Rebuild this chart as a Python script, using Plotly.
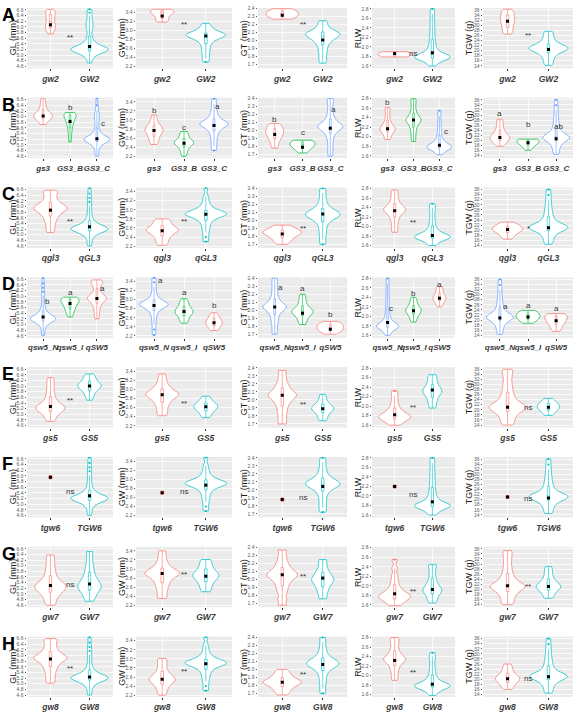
import plotly.graph_objects as go

# ---------------- axis definitions ----------------
TRAITS = ["GL (mm)", "GW (mm)", "GT (mm)", "RLW", "TGW (g)"]
Y_RANGES = [[4.53, 6.67], [2.16, 3.49], [1.655, 2.41], [1.55, 2.82], [13.0, 36.8]]
Y_TICK0 = [4.6, 2.2, 1.7, 1.6, 14]
Y_DTICK = [0.2, 0.2, 0.1, 0.2, 2]
Y_FMT = [".1f", ".1f", ".1f", ".1f", ".0f"]
BANDWIDTH = [0.095, 0.058, 0.033, 0.052, 1.05]

RED, CYAN, GREEN, BLUE = "#F8766D", "#00BFC4", "#00BA38", "#619CFF"

# ---------------- Row A : gw2 / GW2 ----------------
A_groups = ["gw2", "GW2"]
A_GL = [[5.75, 5.8, 5.85, 5.9, 5.94, 5.98, 6.02, 6.06, 6.1, 6.14, 6.19, 6.24, 6.29, 6.34, 6.39, 6.44, 6.48, 6.52, 6.56, 6.59, 6.62],
        [4.72, 4.84, 4.94, 5.0, 5.04, 5.07, 5.1, 5.12, 5.14, 5.16, 5.17, 5.18, 5.19, 5.2, 5.21, 5.22, 5.23, 5.24, 5.26, 5.28, 5.3, 5.33, 5.36, 5.4, 5.45, 5.52, 5.62, 5.74, 5.88, 5.98, 6.06, 6.14, 6.24, 6.38, 6.5, 6.62]]
A_GW = [[3.18, 3.2, 3.22, 3.25, 3.29, 3.33, 3.36, 3.38, 3.4, 3.41, 3.42, 3.43, 3.44, 3.45, 3.46],
        [2.3, 2.38, 2.46, 2.53, 2.6, 2.66, 2.72, 2.76, 2.8, 2.82, 2.84, 2.86, 2.87, 2.88, 2.89, 2.9, 2.91, 2.92, 2.93, 2.95, 2.97, 3.0, 3.04, 3.09, 3.15]]
A_GT = [[2.27, 2.28, 2.29, 2.3, 2.31, 2.32, 2.33, 2.34, 2.35, 2.36, 2.37, 2.38, 2.39, 2.4],
        [1.72, 1.77, 1.82, 1.87, 1.91, 1.95, 1.98, 2.0, 2.02, 2.04, 2.05, 2.06, 2.07, 2.08, 2.09, 2.1, 2.11, 2.12, 2.14, 2.17, 2.21, 2.25]]
A_RLW = [[1.79, 1.8, 1.81, 1.82, 1.83, 1.84, 1.85, 1.86, 1.87, 1.88, 1.89, 1.9],
         [1.6, 1.65, 1.69, 1.72, 1.74, 1.75, 1.76, 1.77, 1.78, 1.79, 1.8, 1.81, 1.82, 1.83, 1.85, 1.87, 1.9, 1.94, 1.99, 2.05, 2.12, 2.2, 2.29, 2.38, 2.48, 2.58, 2.69, 2.8]]
A_TGW = [[26.5, 27.3, 28.1, 28.9, 29.7, 30.5, 31.2, 31.8, 32.4, 33, 33.6, 34.3, 35, 35.7, 36.3],
         [14.2, 15.3, 16.4, 17.4, 18.2, 18.9, 19.4, 19.8, 20.1, 20.4, 20.6, 20.8, 21, 21.2, 21.4, 21.7, 22, 22.4, 22.9, 23.6, 24.5, 25.5, 26.6, 27.6]]
A_MEANS = [[6.07, 5.3], [3.31, 2.87], [2.32, 2.01], [1.86, 1.88], [31.6, 20.4]]
A_SIG = ["**", "**", "**", "ns", "**"]
A_SIG_Y = [5.62, 3.12, 2.2, 1.86, 26.0]

# ---------------- Row B : gs3 / GS3_B / GS3_C ----------------
B_groups = ["gs3", "GS3_B", "GS3_C"]
B_GL = [[5.72, 5.79, 5.85, 5.9, 5.93, 5.96, 5.98, 6.0, 6.02, 6.04, 6.06, 6.09, 6.12, 6.16, 6.21, 6.28, 6.36, 6.45, 6.55, 6.66],
        [5.1, 5.22, 5.34, 5.45, 5.54, 5.62, 5.69, 5.75, 5.8, 5.85, 5.89, 5.93, 5.96, 5.99, 6.02, 6.05, 6.08, 6.1, 6.12, 6.14, 6.15],
        [4.6, 4.72, 4.84, 4.94, 5.0, 5.04, 5.07, 5.1, 5.12, 5.14, 5.16, 5.17, 5.18, 5.19, 5.2, 5.21, 5.22, 5.23, 5.25, 5.27, 5.3, 5.33, 5.37, 5.42, 5.5, 5.6, 5.72, 5.84, 5.94, 6.02, 6.1, 6.22, 6.4, 6.65]]
B_GW = [[2.46, 2.52, 2.57, 2.62, 2.66, 2.7, 2.73, 2.76, 2.78, 2.8, 2.83, 2.86, 2.9, 2.95, 3.02, 3.11],
        [2.2, 2.27, 2.33, 2.38, 2.42, 2.45, 2.47, 2.49, 2.5, 2.51, 2.53, 2.55, 2.58, 2.62, 2.67, 2.72, 2.75],
        [2.33, 2.43, 2.53, 2.62, 2.7, 2.76, 2.8, 2.84, 2.87, 2.89, 2.9, 2.91, 2.92, 2.94, 2.96, 2.99, 3.03, 3.08, 3.15, 3.24, 3.35, 3.47]]
B_GT = [[1.78, 1.82, 1.86, 1.89, 1.91, 1.93, 1.95, 1.97, 1.98, 2.0, 2.01, 2.03, 2.05, 2.07, 2.09],
        [1.72, 1.74, 1.76, 1.78, 1.79, 1.8, 1.81, 1.82, 1.83, 1.84, 1.85, 1.86, 1.87, 1.87, 1.88],
        [1.68, 1.74, 1.8, 1.86, 1.91, 1.95, 1.98, 2.0, 2.02, 2.03, 2.04, 2.05, 2.06, 2.07, 2.08, 2.1, 2.12, 2.15, 2.19, 2.24, 2.3, 2.36, 2.4]]
B_RLW = [[1.94, 1.99, 2.04, 2.08, 2.11, 2.13, 2.15, 2.17, 2.19, 2.21, 2.24, 2.28, 2.33, 2.4, 2.48, 2.56, 2.62],
         [1.9, 1.98, 2.06, 2.13, 2.19, 2.24, 2.28, 2.31, 2.33, 2.35, 2.37, 2.39, 2.42, 2.46, 2.51, 2.58, 2.66, 2.74, 2.8],
         [1.62, 1.67, 1.71, 1.73, 1.75, 1.76, 1.77, 1.78, 1.79, 1.8, 1.81, 1.82, 1.84, 1.86, 1.89, 1.93, 1.98, 2.05, 2.13, 2.22, 2.32, 2.43, 2.55]]
B_TGW = [[17.7, 18.5, 19.2, 19.8, 20.3, 20.7, 21, 21.3, 21.7, 22.2, 22.8, 23.6, 24.6, 25.8, 27.1, 28.4],
         [16.1, 16.8, 17.4, 17.9, 18.3, 18.7, 19, 19.3, 19.5, 19.7, 19.9, 20.1, 20.2, 20.3, 20.4, 20.5],
         [14.5, 15.6, 16.7, 17.7, 18.5, 19.1, 19.6, 20, 20.3, 20.6, 20.8, 21, 21.2, 21.4, 21.6, 21.9, 22.2, 22.6, 23.1, 23.8, 24.7, 25.8, 27, 28.4, 30, 31.8, 33.8, 36]]
B_MEANS = [[6.02, 5.83, 5.22], [2.77, 2.49, 2.88], [1.95, 1.79, 2.03], [2.17, 2.35, 1.82], [21.1, 19.1, 20.6]]
B_LET = [["a", "b", "c"], ["b", "c", "a"], ["b", "c", "a"], ["b", "a", "c"], ["a", "b", "ab"]]
B_LET_Y = [[6.75, 6.32, 5.76], [3.2, 2.84, 3.29], [2.14, 1.97, 2.26], [2.71, 2.85, 2.1], [30.5, 26.2, 25.4]]
B_LET_DX = [[0, 0, 0.22], [0, 0, 0.13], [0, 0, 0.12], [0, 0, 0.25], [0, 0, 0.1]]

# ---------------- Row C : qgl3 / qGL3 ----------------
C_groups = ["qgl3", "qGL3"]
C_GL = [[5.08, 5.22, 5.36, 5.48, 5.58, 5.66, 5.73, 5.79, 5.84, 5.88, 5.91, 5.94, 5.97, 6.0, 6.04, 6.09, 6.15, 6.23, 6.33, 6.44, 6.52, 6.58],
        [4.6, 4.72, 4.84, 4.94, 5.0, 5.04, 5.07, 5.1, 5.12, 5.14, 5.16, 5.17, 5.18, 5.19, 5.2, 5.21, 5.22, 5.23, 5.24, 5.25, 5.27, 5.29, 5.31, 5.34, 5.37, 5.41, 5.46, 5.53, 5.62, 5.74, 5.88, 6.02, 6.16, 6.3, 6.46, 6.65]]
C_GW = [[2.22, 2.29, 2.35, 2.41, 2.45, 2.49, 2.52, 2.54, 2.56, 2.58, 2.6, 2.63, 2.67, 2.72, 2.77, 2.8],
        [2.3, 2.4, 2.5, 2.58, 2.65, 2.71, 2.76, 2.8, 2.83, 2.85, 2.87, 2.88, 2.89, 2.9, 2.91, 2.92, 2.93, 2.94, 2.95, 2.97, 2.99, 3.02, 3.06, 3.12, 3.2, 3.3, 3.48]]
C_GT = [[1.7, 1.73, 1.76, 1.78, 1.8, 1.82, 1.83, 1.84, 1.85, 1.86, 1.87, 1.88, 1.9, 1.92, 1.94],
        [1.7, 1.76, 1.82, 1.87, 1.92, 1.96, 1.99, 2.01, 2.03, 2.04, 2.05, 2.06, 2.07, 2.08, 2.09, 2.1, 2.11, 2.12, 2.14, 2.16, 2.19, 2.23, 2.28, 2.34, 2.4]]
C_RLW = [[1.88, 1.97, 2.06, 2.14, 2.2, 2.25, 2.29, 2.32, 2.34, 2.36, 2.38, 2.41, 2.44, 2.48, 2.54, 2.61, 2.69, 2.77],
         [1.6, 1.65, 1.69, 1.72, 1.74, 1.75, 1.76, 1.77, 1.78, 1.79, 1.8, 1.81, 1.82, 1.84, 1.86, 1.89, 1.93, 1.98, 2.05, 2.13, 2.22, 2.32, 2.4, 2.48]]
C_TGW = [[16.5, 17.4, 18.3, 19, 19.5, 19.9, 20.2, 20.5, 20.8, 21.1, 21.5, 22, 22.6, 23.2],
         [14.5, 15.6, 16.7, 17.7, 18.5, 19.1, 19.6, 20, 20.3, 20.6, 20.8, 21, 21.2, 21.4, 21.6, 21.9, 22.2, 22.6, 23.1, 23.8, 24.7, 25.8, 27, 28.4, 30, 31.8, 33.8, 36]]
C_MEANS = [[5.87, 5.28], [2.54, 2.9], [1.83, 2.08], [2.33, 1.81], [20.3, 21.0]]
C_SIG = ["**", "**", "**", "**", "*"]
C_SIG_Y = [5.46, 2.74, 1.9, 2.08, 20.8]

# ---------------- Row D : qsw5_N / qsw5_I / qSW5 ----------------
D_groups = ["qsw5_N", "qsw5_I", "qSW5"]
D_GL = [[4.6, 4.72, 4.84, 4.94, 5.0, 5.04, 5.07, 5.1, 5.12, 5.14, 5.16, 5.17, 5.18, 5.19, 5.2, 5.21, 5.22, 5.23, 5.24, 5.25, 5.27, 5.29, 5.31, 5.34, 5.37, 5.41, 5.46, 5.53, 5.62, 5.74, 5.88, 6.02, 6.16, 6.3, 6.46, 6.65],
        [5.27, 5.36, 5.44, 5.51, 5.57, 5.62, 5.67, 5.71, 5.75, 5.79, 5.82, 5.85, 5.88, 5.91, 5.93, 5.95, 5.97],
        [5.2, 5.36, 5.5, 5.62, 5.72, 5.8, 5.85, 5.89, 5.92, 5.95, 5.98, 6.02, 6.08, 6.18, 6.32, 6.42, 6.48, 6.53, 6.58]]
D_GW = [[2.22, 2.34, 2.45, 2.55, 2.63, 2.7, 2.75, 2.79, 2.82, 2.84, 2.86, 2.87, 2.88, 2.89, 2.9, 2.91, 2.92, 2.93, 2.95, 2.97, 3.0, 3.04, 3.1, 3.18, 3.28, 3.38, 3.48],
        [2.48, 2.54, 2.59, 2.63, 2.67, 2.7, 2.72, 2.74, 2.76, 2.79, 2.82, 2.86, 2.91, 2.96, 3.02],
        [2.32, 2.36, 2.4, 2.43, 2.46, 2.48, 2.5, 2.52, 2.55, 2.58, 2.62, 2.66, 2.71]]
D_GT = [[1.7, 1.76, 1.82, 1.87, 1.91, 1.95, 1.98, 2.0, 2.02, 2.03, 2.04, 2.05, 2.06, 2.08, 2.1, 2.13, 2.17, 2.22, 2.28, 2.34, 2.4],
        [1.82, 1.86, 1.89, 1.92, 1.94, 1.96, 1.97, 1.98, 1.99, 2.0, 2.02, 2.04, 2.07, 2.11, 2.15, 2.2],
        [1.7, 1.72, 1.73, 1.74, 1.75, 1.76, 1.77, 1.78, 1.79, 1.8, 1.81, 1.82, 1.83, 1.84, 1.85, 1.86]]
D_RLW = [[1.6, 1.65, 1.69, 1.72, 1.74, 1.76, 1.77, 1.78, 1.79, 1.8, 1.81, 1.82, 1.83, 1.85, 1.87, 1.9, 1.94, 1.99, 2.05, 2.12, 2.2, 2.29, 2.38, 2.48, 2.58, 2.69, 2.8],
         [1.88, 1.94, 1.99, 2.03, 2.06, 2.09, 2.11, 2.13, 2.15, 2.17, 2.2, 2.24, 2.29, 2.34, 2.4],
         [2.2, 2.25, 2.29, 2.32, 2.35, 2.37, 2.39, 2.41, 2.43, 2.46, 2.5, 2.55, 2.6, 2.63]]
D_TGW = [[14.3, 15.5, 16.6, 17.6, 18.4, 19.1, 19.6, 20, 20.3, 20.6, 20.8, 21, 21.2, 21.4, 21.6, 21.9, 22.2, 22.6, 23.1, 23.8, 24.7, 25.8, 27, 28.4, 30, 31.8, 33.8, 36],
         [18.7, 19.3, 19.8, 20.3, 20.7, 21, 21.3, 21.6, 21.9, 22.3, 22.7, 23.1, 23.5, 23.8],
         [15.5, 16.3, 17.1, 17.8, 18.4, 18.9, 19.4, 19.8, 20.2, 20.6, 21, 21.4, 21.7, 22, 22.3, 22.5]]
D_MEANS = [[5.27, 5.74, 5.92], [2.87, 2.74, 2.49], [2.04, 1.96, 1.76], [1.87, 2.12, 2.38], [20.8, 21.2, 19.7]]
D_LET = [["b", "a", "a"], ["a", "a", "b"], ["a", "a", "b"], ["c", "b", "a"], ["a", "a", "a"]]
D_LET_Y = [[5.8, 6.12, 6.28], [3.43, 3.15, 2.87], [2.28, 2.27, 1.94], [2.16, 2.49, 2.66], [25.5, 25.6, 24.5]]
D_LET_DX = [[0.15, 0, 0.22], [0.2, 0, 0], [0.2, 0, 0], [0.15, 0, 0], [0.2, 0, 0]]

# ---------------- Row E : gs5 / GS5 ----------------
E_groups = ["gs5", "GS5"]
E_GL = [[4.75, 4.85, 4.94, 5.01, 5.07, 5.11, 5.15, 5.18, 5.21, 5.24, 5.27, 5.3, 5.34, 5.39, 5.45, 5.53, 5.63, 5.75, 5.88, 6.02, 6.16, 6.3],
        [5.5, 5.62, 5.72, 5.8, 5.86, 5.91, 5.95, 5.98, 6.01, 6.04, 6.07, 6.11, 6.16, 6.22, 6.3, 6.37, 6.43]]
E_GW = [[2.42, 2.5, 2.58, 2.65, 2.71, 2.76, 2.8, 2.83, 2.86, 2.88, 2.9, 2.92, 2.95, 2.98, 3.02, 3.07, 3.14, 3.23, 3.34],
        [2.38, 2.44, 2.49, 2.53, 2.56, 2.59, 2.61, 2.63, 2.65, 2.67, 2.7, 2.74, 2.79, 2.85]]
E_GT = [[1.7, 1.77, 1.84, 1.9, 1.95, 1.99, 2.02, 2.04, 2.06, 2.08, 2.1, 2.13, 2.17, 2.22, 2.29, 2.37],
        [1.74, 1.78, 1.81, 1.84, 1.86, 1.88, 1.89, 1.9, 1.91, 1.93, 1.95, 1.98, 2.02, 2.07]]
E_RLW = [[1.6, 1.64, 1.68, 1.71, 1.73, 1.75, 1.77, 1.78, 1.8, 1.82, 1.84, 1.87, 1.91, 1.96, 2.03, 2.12, 2.22, 2.32],
         [1.96, 2.04, 2.11, 2.17, 2.22, 2.26, 2.29, 2.32, 2.35, 2.38, 2.42, 2.47, 2.53, 2.6, 2.66]]
E_TGW = [[14, 15.2, 16.4, 17.5, 18.4, 19.1, 19.7, 20.2, 20.6, 21, 21.4, 21.8, 22.3, 22.9, 23.7, 24.7, 25.9, 27.3, 28.9, 30.7, 32.7, 34.5, 36],
         [17.8, 18.6, 19.3, 19.9, 20.4, 20.8, 21.1, 21.4, 21.7, 22.1, 22.6, 23.2, 23.8, 24.5]]
E_MEANS = [[5.28, 6.0], [2.88, 2.62], [2.06, 1.89], [1.82, 2.34], [21.0, 21.0]]
E_SIG = ["**", "**", "**", "**", "ns"]
E_SIG_Y = [5.5, 2.68, 1.94, 1.97, 21.0]

# ---------------- Row F : tgw6 / TGW6 ----------------
F_groups = ["tgw6", "TGW6"]
F_GL = [[5.95],
        [4.6, 4.72, 4.84, 4.94, 5.0, 5.04, 5.07, 5.1, 5.12, 5.14, 5.16, 5.17, 5.18, 5.19, 5.2, 5.21, 5.22, 5.23, 5.24, 5.25, 5.27, 5.29, 5.31, 5.34, 5.37, 5.41, 5.46, 5.53, 5.62, 5.74, 5.88, 6.02, 6.16, 6.3, 6.46, 6.65]]
F_GW = [[2.7],
        [2.3, 2.4, 2.5, 2.58, 2.65, 2.71, 2.76, 2.8, 2.83, 2.85, 2.87, 2.88, 2.89, 2.9, 2.91, 2.92, 2.93, 2.94, 2.95, 2.97, 2.99, 3.02, 3.06, 3.12, 3.2, 3.3, 3.48]]
F_GT = [[1.88],
        [1.72, 1.77, 1.82, 1.87, 1.92, 1.96, 1.99, 2.01, 2.03, 2.04, 2.05, 2.06, 2.07, 2.08, 2.09, 2.1, 2.11, 2.12, 2.14, 2.16, 2.19, 2.23, 2.28, 2.34, 2.4]]
F_RLW = [[2.2],
         [1.6, 1.65, 1.69, 1.72, 1.74, 1.76, 1.77, 1.78, 1.79, 1.8, 1.81, 1.82, 1.83, 1.85, 1.87, 1.9, 1.94, 1.99, 2.05, 2.12, 2.2, 2.29, 2.38, 2.48, 2.58, 2.69, 2.8]]
F_TGW = [[21.0],
         [14.5, 15.6, 16.7, 17.7, 18.5, 19.1, 19.6, 20, 20.3, 20.6, 20.8, 21, 21.2, 21.4, 21.6, 21.9, 22.2, 22.6, 23.1, 23.8, 24.7, 25.8, 27, 28.4, 30, 31.8, 33.8, 36]]
F_MEANS = [[5.95, 5.3], [2.7, 2.87], [1.88, 2.04], [2.2, 1.88], [21.0, 20.6]]
F_SIG = ["ns", "ns", "ns", "ns", "ns"]
F_SIG_Y = [5.46, 2.72, 1.9, 2.03, 20.5]

# ---------------- Row G : gw7 / GW7 ----------------
G_groups = ["gw7", "GW7"]
G_GL = [[4.6, 4.72, 4.83, 4.92, 5.0, 5.06, 5.11, 5.16, 5.2, 5.24, 5.28, 5.32, 5.36, 5.41, 5.47, 5.55, 5.65, 5.77, 5.9, 6.05, 6.21, 6.38],
        [4.74, 4.86, 4.96, 5.04, 5.11, 5.17, 5.22, 5.27, 5.32, 5.37, 5.43, 5.5, 5.58, 5.68, 5.8, 5.94, 6.1, 6.3, 6.5]]
G_GW = [[2.35, 2.45, 2.55, 2.63, 2.7, 2.76, 2.81, 2.85, 2.88, 2.9, 2.92, 2.95, 2.98, 3.02, 3.08, 3.16, 3.27, 3.4],
        [2.5, 2.58, 2.65, 2.71, 2.76, 2.8, 2.83, 2.86, 2.89, 2.92, 2.96, 3.01, 3.07, 3.14, 3.21]]
G_GT = [[1.68, 1.76, 1.84, 1.9, 1.95, 1.99, 2.02, 2.04, 2.06, 2.08, 2.1, 2.13, 2.17, 2.22, 2.29, 2.37],
        [1.76, 1.82, 1.87, 1.91, 1.94, 1.97, 1.99, 2.01, 2.03, 2.06, 2.09, 2.13, 2.19, 2.25]]
G_RLW = [[1.58, 1.63, 1.67, 1.7, 1.73, 1.75, 1.77, 1.79, 1.81, 1.83, 1.86, 1.9, 1.95, 2.02, 2.11, 2.22, 2.37, 2.55],
         [1.64, 1.71, 1.77, 1.82, 1.86, 1.89, 1.92, 1.95, 1.99, 2.04, 2.1, 2.18, 2.28, 2.38, 2.45]]
G_TGW = [[14, 15.3, 16.6, 17.7, 18.6, 19.4, 20, 20.5, 20.9, 21.3, 21.7, 22.2, 22.8, 23.6, 24.6, 25.9, 27.5, 29.4, 31.5, 33.5, 35.3],
         [16.5, 17.6, 18.6, 19.4, 20, 20.5, 20.9, 21.3, 21.7, 22.2, 22.8, 23.6, 24.7, 26, 27.5, 29]]
G_MEANS = [[5.3, 5.35], [2.9, 2.84], [2.06, 2.02], [1.83, 1.92], [21.4, 21.2]]
G_SIG = ["ns", "**", "**", "**", "**"]
G_SIG_Y = [5.35, 2.88, 2.04, 1.87, 21.3]

# ---------------- Row H : gw8 / GW8 ----------------
H_groups = ["gw8", "GW8"]
H_GL = [[5.02, 5.16, 5.3, 5.43, 5.54, 5.63, 5.71, 5.78, 5.83, 5.87, 5.9, 5.93, 5.96, 6.0, 6.05, 6.12, 6.2, 6.3, 6.42, 6.52, 6.6],
        [4.6, 4.72, 4.84, 4.94, 5.0, 5.04, 5.07, 5.1, 5.12, 5.14, 5.16, 5.17, 5.18, 5.19, 5.2, 5.21, 5.22, 5.23, 5.24, 5.25, 5.27, 5.29, 5.31, 5.34, 5.37, 5.41, 5.46, 5.53, 5.62, 5.74, 5.88, 6.02, 6.16, 6.3, 6.46, 6.65]]
H_GW = [[2.2, 2.28, 2.35, 2.41, 2.45, 2.49, 2.52, 2.54, 2.56, 2.59, 2.62, 2.66, 2.71, 2.78, 2.86, 2.94, 3.01],
        [2.3, 2.4, 2.5, 2.58, 2.65, 2.71, 2.76, 2.8, 2.83, 2.85, 2.87, 2.88, 2.89, 2.9, 2.91, 2.92, 2.93, 2.94, 2.95, 2.97, 2.99, 3.02, 3.06, 3.12, 3.2, 3.3, 3.48]]
H_GT = [[1.68, 1.72, 1.75, 1.78, 1.8, 1.82, 1.83, 1.84, 1.85, 1.86, 1.88, 1.9, 1.93, 1.96, 2.0],
        [1.7, 1.76, 1.82, 1.87, 1.92, 1.96, 1.99, 2.01, 2.03, 2.04, 2.05, 2.06, 2.07, 2.08, 2.09, 2.1, 2.11, 2.12, 2.14, 2.16, 2.19, 2.23, 2.28, 2.34, 2.4]]
H_RLW = [[1.9, 1.99, 2.08, 2.15, 2.21, 2.26, 2.29, 2.32, 2.34, 2.36, 2.39, 2.42, 2.46, 2.52, 2.59, 2.67, 2.74, 2.8],
         [1.58, 1.64, 1.68, 1.71, 1.73, 1.75, 1.76, 1.77, 1.78, 1.79, 1.8, 1.81, 1.82, 1.84, 1.86, 1.89, 1.93, 1.98, 2.05, 2.13, 2.22, 2.32, 2.4, 2.48]]
H_TGW = [[16, 16.9, 17.7, 18.4, 19, 19.5, 19.9, 20.2, 20.5, 20.9, 21.4, 22, 22.8, 23.8, 24.9, 26],
         [14.5, 15.6, 16.7, 17.7, 18.5, 19.1, 19.6, 20, 20.3, 20.6, 20.8, 21, 21.2, 21.4, 21.6, 21.9, 22.2, 22.6, 23.1, 23.8, 24.7, 25.8, 27, 28.4, 30, 31.8, 33.8, 36]]
H_MEANS = [[5.88, 5.24], [2.55, 2.89], [1.84, 2.06], [2.32, 1.82], [20.2, 21.0]]
H_SIG = ["**", "**", "**", "**", "ns"]
H_SIG_Y = [5.55, 2.72, 1.94, 2.07, 20.3]

# ---------------- styling (violin max widths, in category units) ----------------
A_W = [[0.25, 0.95], [0.55, 0.9], [0.8, 0.85], [0.9, 0.95], [0.35, 0.95]]
B_W = [[0.7, 0.45, 0.95], [0.6, 0.65, 0.95], [0.65, 0.9, 0.9], [0.58, 0.58, 0.95], [0.7, 0.8, 0.95]]
C_W = [[0.85, 0.95], [0.73, 0.95], [0.95, 0.85], [0.58, 0.95], [0.75, 0.95]]
D_W = [[0.95, 0.68, 0.7], [0.95, 0.6, 0.55], [0.85, 0.78, 0.95], [0.85, 0.6, 0.5], [0.95, 0.85, 0.8]]
E_W = [[0.75, 0.6], [0.75, 0.55], [0.7, 0.55], [0.85, 0.5], [0.9, 0.55]]
F_W = [[0, 0.95], [0, 0.95], [0, 0.85], [0, 0.95], [0, 0.95]]
G_W = [[0.8, 0.6], [0.8, 0.6], [0.75, 0.55], [0.85, 0.5], [0.85, 0.6]]
H_W = [[0.85, 0.95], [0.6, 0.95], [0.95, 0.8], [0.58, 0.95], [0.6, 0.92]]

ROWS = [
    dict(letter="A", groups=A_groups, colors=[RED, CYAN], data=[A_GL, A_GW, A_GT, A_RLW, A_TGW],
         means=A_MEANS, widths=A_W, sig=A_SIG, sig_y=A_SIG_Y),
    dict(letter="B", groups=B_groups, colors=[RED, GREEN, BLUE], data=[B_GL, B_GW, B_GT, B_RLW, B_TGW],
         means=B_MEANS, widths=B_W, let=B_LET, let_y=B_LET_Y, let_dx=B_LET_DX),
    dict(letter="C", groups=C_groups, colors=[RED, CYAN], data=[C_GL, C_GW, C_GT, C_RLW, C_TGW],
         means=C_MEANS, widths=C_W, sig=C_SIG, sig_y=C_SIG_Y),
    dict(letter="D", groups=D_groups, colors=[BLUE, GREEN, RED], data=[D_GL, D_GW, D_GT, D_RLW, D_TGW],
         means=D_MEANS, widths=D_W, let=D_LET, let_y=D_LET_Y, let_dx=D_LET_DX),
    dict(letter="E", groups=E_groups, colors=[RED, CYAN], data=[E_GL, E_GW, E_GT, E_RLW, E_TGW],
         means=E_MEANS, widths=E_W, sig=E_SIG, sig_y=E_SIG_Y),
    dict(letter="F", groups=F_groups, colors=[RED, CYAN], data=[F_GL, F_GW, F_GT, F_RLW, F_TGW],
         means=F_MEANS, widths=F_W, sig=F_SIG, sig_y=F_SIG_Y),
    dict(letter="G", groups=G_groups, colors=[RED, CYAN], data=[G_GL, G_GW, G_GT, G_RLW, G_TGW],
         means=G_MEANS, widths=G_W, sig=G_SIG, sig_y=G_SIG_Y),
    dict(letter="H", groups=H_groups, colors=[RED, CYAN], data=[H_GL, H_GW, H_GT, H_RLW, H_TGW],
         means=H_MEANS, widths=H_W, sig=H_SIG, sig_y=H_SIG_Y),
]

# ---------------- layout geometry (pixels) ----------------
W, H = 580, 712
COL_X = [(27, 113), (136, 232), (258, 347), (372, 455), (483, 573)]
ROW_TOP0, ROW_STEP, PANEL_H = 6, 90.7, 61

FONT = "Liberation Sans, Arial, sans-serif"
GRID = "rgba(255,255,255,0.75)"

fig = go.Figure()
layout = {}
annotations = []

for r, row in enumerate(ROWS):
    top = ROW_TOP0 + r * ROW_STEP
    ydom = [1 - (top + PANEL_H) / H, 1 - top / H]
    groups = row["groups"]
    n = len(groups)
    annotations.append(dict(text="<b>%s</b>" % row["letter"], x=0.0, y=1 - (top + 7) / H,
                            xref="paper", yref="paper", xanchor="left", yanchor="middle",
                            showarrow=False, font=dict(family=FONT, size=18, color="black")))
    for c in range(5):
        k = r * 5 + c + 1
        xname = "xaxis" if k == 1 else "xaxis%d" % k
        yname = "yaxis" if k == 1 else "yaxis%d" % k
        xref = "x" if k == 1 else "x%d" % k
        yref = "y" if k == 1 else "y%d" % k
        x0, x1 = COL_X[c]
        layout[xname] = dict(domain=[x0 / W, x1 / W], anchor=yref, type="category",
                             categoryorder="array", categoryarray=groups,
                             range=[-0.6, n - 0.4], showgrid=True, gridcolor=GRID, gridwidth=1,
                             zeroline=False, showline=False, ticks="outside", ticklen=2,
                             tickcolor="#333", tickwidth=0.6, tickangle=0,
                             tickfont=dict(family=FONT, size=8 if n == 3 else 8.5, color="#3a3a3a",
                                           weight="bold", style="italic"))
        layout[yname] = dict(domain=ydom, anchor=xref, range=Y_RANGES[c], tick0=Y_TICK0[c],
                             dtick=Y_DTICK[c], tickformat=Y_FMT[c], showgrid=True,
                             gridcolor=GRID, gridwidth=1, zeroline=False, showline=False,
                             ticks="outside", ticklen=1.5, tickcolor="#555", tickwidth=0.5,
                             tickfont=dict(family=FONT, size=5, color="#5a5a5a"))
        # y title
        annotations.append(dict(text=TRAITS[c], x=(x0 - 14) / W, y=(ydom[0] + ydom[1]) / 2,
                                xref="paper", yref="paper", textangle=-90, showarrow=False,
                                xanchor="center", yanchor="middle",
                                font=dict(family=FONT, size=9, color="#1a1a1a")))
        vals_all = row["data"][c]
        for g, (grp, vals) in enumerate(zip(groups, vals_all)):
            col = row["colors"][g]
            if len(vals) > 1:
                w = row["widths"][c][g]
                fig.add_trace(go.Violin(
                    x=[grp] * len(vals), y=vals, xaxis=xref, yaxis=yref,
                    line=dict(color=col, width=0.75), fillcolor="white",
                    width=w, spanmode="hard", scalemode="width", bandwidth=BANDWIDTH[c],
                    points="outliers", pointpos=0, jitter=0,
                    marker=dict(color=col, size=2.2, line=dict(width=0)),
                    box=dict(visible=True, width=min(0.6, 0.06 / w), fillcolor="white",
                             line=dict(color=col, width=0.6)),
                    meanline=dict(visible=False), showlegend=False, hoverinfo="skip"))
            else:
                fig.add_trace(go.Scatter(x=[grp], y=vals, xaxis=xref, yaxis=yref, mode="markers",
                                         marker=dict(color=col, size=4.5), showlegend=False,
                                         hoverinfo="skip"))
        fig.add_trace(go.Scatter(x=groups, y=row["means"][c], xaxis=xref, yaxis=yref,
                                 mode="markers", marker=dict(color="black", size=3, symbol="square"),
                                 showlegend=False, hoverinfo="skip"))
        if "sig" in row:
            annotations.append(dict(text=row["sig"][c], x=0.5, y=row["sig_y"][c], xref=xref, yref=yref,
                                    showarrow=False, font=dict(family=FONT, size=8, color="#333")))
        else:
            for g in range(n):
                annotations.append(dict(text=row["let"][c][g], x=g + row["let_dx"][c][g],
                                        y=row["let_y"][c][g], xref=xref, yref=yref, showarrow=False,
                                        font=dict(family=FONT, size=8, color="#333")))

fig.update_layout(**layout)
fig.update_layout(width=W, height=H, margin=dict(l=0, r=0, t=0, b=0),
                  paper_bgcolor="white", plot_bgcolor="#EBEBEB",
                  font=dict(family=FONT), annotations=annotations, showlegend=False,
                  violingap=0, violinmode="overlay")
fig.write_html("out.html")
